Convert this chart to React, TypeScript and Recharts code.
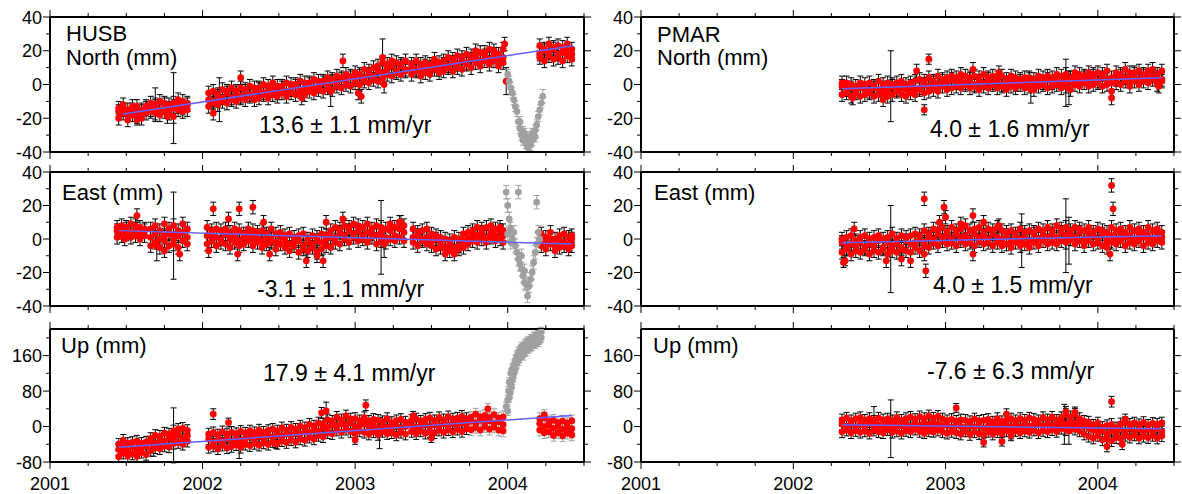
import { ComposedChart, Scatter, ErrorBar, XAxis, YAxis } from "recharts";

const FONT = '"Liberation Sans", Arial, Helvetica, sans-serif';

// time axis (decimal years)
const yearTicks = [2001, 2001.25, 2001.5, 2001.75, 2002, 2002.25, 2002.5, 2002.75, 2003, 2003.25, 2003.5, 2003.75, 2004, 2004.25, 2004.5];
const yearLabels = [2001, 2002, 2003, 2004];

const horizTicks = [-40, -30, -20, -10, 0, 10, 20, 30, 40];
const horizLabels = [-40, -20, 0, 20, 40];
const upTicks = [-80, -40, 0, 40, 80, 120, 160, 200];
const upLabels = [-80, 0, 80, 160];

// Band rows: [year, three daily solutions read across the cloud at that epoch] (mm)
// Odd rows: [year, value, sigma] for off-cloud points and big error bars
const husbNorthSigma = 4;
const husbNorthBand = [
  [2001.45, -20, -16, -14], [2001.48, -17, -15, -12], [2001.51, -21, -18, -15], [2001.54, -18, -15, -13],
  [2001.57, -19, -17, -13], [2001.6, -20, -16, -15], [2001.63, -17, -14, -13],
  [2001.66, -16, -15, -11], [2001.69, -17, -13, -12], [2001.72, -18, -15, -10], [2001.75, -16, -12, -11],
  [2001.78, -17, -14, -12], [2001.81, -19, -13, -11], [2001.84, -15, -13, -9], [2001.87, -16, -14, -10], [2001.9, -15, -12, -11],
  [2002.04, -13, -9, -5], [2002.07, -11, -10, -4], [2002.1, -12, -7, -6], [2002.13, -10, -8, -3], [2002.16, -11, -5, -4],
  [2002.19, -9, -8, -2], [2002.22, -10, -5, -4], [2002.25, -8, -7, -2], [2002.28, -9, -4, -3], [2002.31, -7, -6, -1],
  [2002.34, -9, -5, -2], [2002.37, -8, -3, -2], [2002.4, -6, -5, 0], [2002.43, -8, -4, -1], [2002.46, -6, -3, 1],
  [2002.49, -7, -5, -1], [2002.52, -5, -2, -1], [2002.55, -7, -4, 1], [2002.58, -5, -3, 0], [2002.61, -6, -1, 0],
  [2002.64, -4, -3, 2], [2002.67, -6, -2, 1], [2002.7, -4, 0, 1], [2002.73, -5, -2, 3], [2002.76, -3, -1, 2],
  [2002.79, -4, 1, 2], [2002.82, -2, 0, 4], [2002.85, -3, 2, 3], [2002.88, -1, 1, 5], [2002.91, -2, 3, 4],
  [2002.94, 0, 2, 6], [2002.97, -1, 4, 5], [2003.0, 1, 3, 7], [2003.03, 0, 5, 6], [2003.06, 2, 4, 9],
  [2003.09, 1, 6, 8], [2003.12, 3, 5, 10], [2003.15, 2, 8, 11], [2003.18, 4, 7, 13], [2003.21, 6, 9, 12],
  [2003.24, 5, 11, 14], [2003.27, 7, 8, 13], [2003.3, 6, 11, 12], [2003.33, 8, 9, 14],
  [2003.37, 6, 10, 12], [2003.4, 8, 9, 14], [2003.43, 5, 8, 12], [2003.46, 7, 11, 13], [2003.49, 6, 10, 12],
  [2003.52, 9, 11, 15], [2003.55, 7, 9, 13], [2003.58, 8, 12, 14], [2003.61, 10, 11, 16], [2003.64, 8, 13, 15],
  [2003.67, 10, 12, 17], [2003.7, 9, 14, 16], [2003.73, 12, 13, 18], [2003.76, 10, 15, 17], [2003.79, 13, 16, 20],
  [2003.82, 11, 14, 19], [2003.85, 14, 17, 19], [2003.88, 12, 15, 21], [2003.91, 14, 18, 20], [2003.94, 11, 15, 18],
  [2003.97, 13, 16, 21],
  [2004.21, 16, 18, 23], [2004.24, 14, 20, 21], [2004.27, 17, 19, 24], [2004.3, 15, 21, 22], [2004.33, 16, 18, 23],
  [2004.36, 14, 19, 22], [2004.39, 17, 20, 24], [2004.42, 15, 18, 21],
];
const husbNorthOdd = [
  [2001.57, -21, 3], [2001.69, -12, 10], [2001.77, -19, 4], [2001.81, -14, 21],
  [2002.07, -17, 4], [2002.11, -9, 13], [2002.25, 4, 4], [2002.65, -8, 4], [2002.84, -4, 9], [2002.92, 14, 4],
  [2003.02, -5, 4], [2003.04, -7, 4], [2003.18, 16, 11], [2003.19, 0, 5], [2003.98, 24, 4], [2003.99, 2, 8],
];
const husbNorthOut = [
  [2004.0, 6, 3], [2004.01, 2, 3], [2004.02, -2, 3], [2004.03, -5, 3], [2004.04, -9, 3], [2004.05, -13, 3], [2004.06, -16, 3],
  [2004.07, -22, 3], [2004.08, -26, 3], [2004.08, -22, 3], [2004.09, -30, 3], [2004.1, -33, 3], [2004.1, -28, 3],
  [2004.11, -29, 3], [2004.12, -35, 3], [2004.12, -31, 3], [2004.13, -37, 3], [2004.14, -32, 3], [2004.14, -36, 3],
  [2004.15, -36, 3], [2004.16, -33, 3], [2004.16, -29, 3], [2004.17, -30, 3], [2004.18, -27, 3], [2004.18, -31, 3],
  [2004.19, -24, 3], [2004.2, -19, 3], [2004.21, -15, 3], [2004.22, -11, 3], [2004.23, -7, 4],
];
const husbNorthTrend = [[2001.48, -17.5], [2004.43, 23]];

const husbEastSigma = 4;
const husbEastBand = [
  [2001.44, 1, 5, 7], [2001.47, 2, 4, 8], [2001.5, 3, 6, 7], [2001.53, 1, 4, 9], [2001.56, 2, 6, 8], [2001.59, 0, 3, 7],
  [2001.62, 2, 5, 6], [2001.66, -4, 1, 6], [2001.69, -2, 3, 8], [2001.72, -5, 0, 5], [2001.75, -1, 2, 9], [2001.78, -4, 3, 6],
  [2001.81, -3, 0, 8], [2001.84, -5, 2, 5], [2001.87, -1, 4, 9], [2001.9, -3, 1, 6],
  [2002.03, -3, 2, 7], [2002.06, -1, 3, 5], [2002.09, -4, 1, 6], [2002.12, -2, 0, 5], [2002.15, -3, 3, 6], [2002.18, -5, 0, 4],
  [2002.21, -2, 2, 6], [2002.24, -4, -1, 5], [2002.27, -3, 1, 3], [2002.3, -1, 3, 6], [2002.33, -4, 0, 5], [2002.36, -2, 2, 4],
  [2002.39, -5, -1, 5], [2002.42, -3, 1, 3], [2002.45, -2, 0, 6], [2002.48, -6, -2, 3], [2002.51, -3, 1, 4], [2002.54, -5, -1, 2],
  [2002.57, -7, -3, 3], [2002.6, -4, -2, 1], [2002.63, -8, -1, 2], [2002.66, -6, -4, 3], [2002.69, -7, -2, 0], [2002.72, -5, -3, 2],
  [2002.75, -8, -1, 1], [2002.78, -6, -2, 3], [2002.81, -4, 0, 2], [2002.84, -5, 1, 5], [2002.87, -2, 1, 7], [2002.9, -3, 4, 6],
  [2002.93, 0, 2, 8], [2002.96, -2, 5, 7], [2002.99, 1, 3, 9], [2003.02, -1, 5, 8], [2003.05, 0, 2, 7], [2003.08, -2, 4, 9],
  [2003.11, 1, 3, 6], [2003.14, -3, 2, 8], [2003.17, -1, 4, 7], [2003.2, -2, 1, 6], [2003.23, 0, 5, 9], [2003.26, -1, 2, 7],
  [2003.29, 1, 6, 10], [2003.32, -1, 4, 8],
  [2003.38, -2, 1, 6], [2003.41, -4, 2, 4], [2003.44, -1, 0, 5], [2003.47, -3, 1, 6], [2003.5, -4, -1, 3], [2003.53, -6, 0, 2],
  [2003.56, -5, -3, 1], [2003.59, -9, -5, 0], [2003.62, -7, -3, -1], [2003.65, -9, -5, 1], [2003.68, -6, -4, 0], [2003.71, -5, -1, 3],
  [2003.74, -3, 0, 4], [2003.77, -1, 3, 5], [2003.8, -2, 2, 7], [2003.83, 0, 4, 6], [2003.86, -2, 1, 7], [2003.89, 1, 4, 8],
  [2003.92, -1, 2, 6], [2003.95, 0, 5, 7], [2003.97, -2, 2, 5],
  [2004.22, -4, -1, 3], [2004.25, -6, -2, 1], [2004.28, -3, 0, 4], [2004.31, -7, -4, 0], [2004.34, -5, -1, 2],
  [2004.37, -4, -2, 3], [2004.4, -6, -3, 1], [2004.42, -4, 0, 2],
];
const husbEastOdd = [
  [2001.49, 0, 4], [2001.57, 14, 4], [2001.7, -4, 9], [2001.75, -7, 4], [2001.81, 2, 26], [2001.85, -9, 4],
  [2002.04, -7, 4], [2002.07, 18, 4], [2002.17, 12, 4], [2002.23, -9, 4], [2002.24, 18, 4], [2002.33, 19, 4],
  [2002.4, 10, 4], [2002.44, -9, 4], [2002.68, -13, 4], [2002.75, -10, 4], [2002.79, -13, 4], [2002.81, 10, 4],
  [2002.92, 12, 4], [2003.17, 1, 22], [2003.19, -3, 8], [2003.3, 10, 4],
];
const husbEastOut = [
  [2003.99, 28, 4], [2004.0, 20, 4], [2004.0, 3, 4], [2004.01, 12, 4], [2004.02, 6, 4], [2004.02, -2, 4], [2004.03, 0, 4],
  [2004.04, 4, 4], [2004.05, -4, 4], [2004.06, -8, 4], [2004.07, 28, 4], [2004.07, -12, 4], [2004.08, -15, 4], [2004.09, -18, 4],
  [2004.09, -10, 4], [2004.1, -22, 4], [2004.11, -19, 4], [2004.11, -26, 4], [2004.12, -27, 4], [2004.13, -34, 4],
  [2004.14, -28, 4], [2004.15, -24, 4], [2004.16, -20, 4], [2004.17, -14, 4], [2004.18, -8, 4], [2004.19, -3, 4],
  [2004.19, 22, 4], [2004.2, 4, 4], [2004.21, 0, 4],
];
const husbEastTrend = [[2001.45, 5], [2004.42, -3]];

const husbUpSigma = 13;
const husbUpBand = [
  [2001.45, -68, -52, -40], [2001.48, -60, -47, -31], [2001.51, -66, -55, -38], [2001.54, -62, -45, -36],
  [2001.57, -67, -51, -33], [2001.6, -58, -48, -38], [2001.63, -63, -44, -35],
  [2001.66, -54, -36, -27], [2001.69, -48, -38, -20], [2001.72, -50, -31, -22], [2001.75, -44, -33, -15],
  [2001.78, -46, -26, -17], [2001.81, -38, -28, -10], [2001.84, -36, -18, -6], [2001.87, -40, -25, -4], [2001.9, -33, -20, -9],
  [2002.04, -47, -28, -17], [2002.07, -44, -35, -14], [2002.1, -50, -29, -19], [2002.13, -42, -33, -12],
  [2002.16, -48, -26, -18], [2002.19, -45, -34, -13], [2002.22, -41, -27, -16], [2002.25, -47, -31, -11],
  [2002.28, -40, -28, -15], [2002.31, -43, -23, -10], [2002.34, -38, -29, -14], [2002.37, -42, -22, -8],
  [2002.4, -37, -27, -13], [2002.43, -40, -20, -9], [2002.46, -34, -24, -6], [2002.49, -38, -19, -10],
  [2002.52, -32, -21, -3], [2002.55, -36, -17, -8], [2002.58, -30, -19, -2], [2002.61, -35, -15, -6],
  [2002.64, -28, -17, 1], [2002.67, -31, -12, -3], [2002.7, -24, -13, 5], [2002.73, -28, -8, 1],
  [2002.76, -20, -10, 8], [2002.79, -23, -3, 6], [2002.82, -14, -2, 15], [2002.85, -16, 4, 12],
  [2002.88, -8, 2, 21], [2002.91, -13, 6, 15], [2002.94, -6, 4, 24], [2002.97, -11, 8, 17],
  [2003.0, -15, 0, 18], [2003.03, -10, 3, 13], [2003.06, -13, 6, 20], [2003.09, -17, -1, 12],
  [2003.12, -12, 2, 16], [2003.15, -18, -3, 14], [2003.18, -11, 3, 11], [2003.21, -16, -2, 18],
  [2003.24, -14, -5, 9], [2003.27, -19, 2, 13], [2003.3, -13, -3, 16], [2003.33, -17, 0, 10],
  [2003.37, -11, 4, 14], [2003.4, -16, -2, 17], [2003.43, -10, 1, 12], [2003.46, -15, 5, 16], [2003.49, -12, 0, 19],
  [2003.52, -14, 4, 13], [2003.55, -8, 2, 20], [2003.58, -13, 6, 15], [2003.61, -7, 3, 22], [2003.64, -12, 8, 17],
  [2003.67, -6, 4, 19], [2003.7, -11, 9, 23], [2003.73, -5, 6, 18],
];
const husbUpOdd = [
  [2001.68, -45, 22], [2001.81, -20, 62], [2002.07, 28, 12], [2002.17, 9, 10], [2002.24, -42, 30], [2002.48, -39, 10],
  [2002.78, 31, 12], [2002.81, 35, 20], [2003.0, -30, 10], [2003.07, 48, 12], [2003.16, -15, 35], [2003.38, 24, 10],
  [2003.5, -26, 10],
];
// red solutions that carry grey error bars
const husbUpGreyBand = [
  [2003.76, -7, 12, 21], [2003.79, -2, 8, 28], [2003.82, -8, 14, 22], [2003.85, 0, 10, 25],
  [2003.88, -6, 13, 20], [2003.91, -1, 7, 27], [2003.94, -8, 11, 19], [2003.97, -10, 4, 22],
  [2004.21, -8, 7, 18], [2004.24, -14, 0, 20], [2004.27, -12, 3, 11], [2004.3, -20, -4, 14],
  [2004.33, -14, 1, 9], [2004.36, -21, -6, 12], [2004.39, -15, -1, 8], [2004.42, -19, -5, 13],
];
const husbUpGreyOdd = [[2003.87, 40, 12], [2004.24, 26, 12]];
const husbUpOut = [
  [2003.99, 45, 10], [2004.0, 60, 10], [2004.0, 35, 10], [2004.005, 80, 10], [2004.01, 100, 10], [2004.01, 65, 10],
  [2004.015, 75, 10], [2004.02, 120, 10], [2004.02, 95, 10], [2004.025, 88, 10], [2004.03, 130, 10], [2004.03, 105, 10],
  [2004.035, 112, 10], [2004.04, 140, 10], [2004.04, 120, 10], [2004.05, 150, 10], [2004.05, 130, 10], [2004.06, 160, 10],
  [2004.06, 142, 10], [2004.07, 148, 10], [2004.07, 168, 10], [2004.08, 172, 10], [2004.08, 155, 10], [2004.09, 162, 10],
  [2004.09, 180, 10], [2004.1, 178, 10], [2004.1, 160, 10], [2004.11, 168, 10], [2004.11, 185, 10], [2004.12, 188, 10],
  [2004.12, 170, 10], [2004.13, 175, 10], [2004.13, 192, 10], [2004.14, 192, 10], [2004.14, 176, 10], [2004.15, 180, 10],
  [2004.15, 198, 10], [2004.16, 196, 10], [2004.16, 182, 10], [2004.17, 188, 10], [2004.17, 203, 10], [2004.18, 202, 10],
  [2004.18, 186, 10], [2004.19, 192, 10], [2004.19, 208, 10], [2004.2, 206, 10], [2004.2, 190, 10], [2004.21, 196, 10],
  [2004.21, 212, 10], [2004.22, 214, 10], [2004.22, 200, 10],
];
const husbUpTrend = [[2001.45, -47], [2004.42, 25]];

const pmarNorthSigma = 4;
const pmarNorthBand = [
  [2002.32, -6, -1, 1], [2002.35, -5, -3, 1], [2002.38, -7, -2, 0], [2002.41, -5, -4, -1], [2002.44, -7, -2, 1],
  [2002.47, -6, -3, 0], [2002.5, -5, -4, 1], [2002.53, -7, -2, -1], [2002.56, -6, -3, 2], [2002.59, -5, -2, 0],
  [2002.62, -7, -4, 1], [2002.65, -6, -1, 0], [2002.68, -4, -3, 1], [2002.71, -6, -2, 2], [2002.74, -7, -3, 0],
  [2002.77, -5, -1, 1], [2002.8, -6, -3, 2], [2002.83, -3, -2, 3], [2002.86, -5, 0, 2], [2002.89, -4, -1, 4],
  [2002.92, -3, 1, 2], [2002.95, -4, 0, 5], [2002.98, -1, 2, 3], [2003.01, -3, 0, 4], [2003.04, -2, 3, 5],
  [2003.07, -1, 1, 4], [2003.1, -2, 2, 6], [2003.13, 0, 1, 5], [2003.16, -2, 3, 4], [2003.19, -1, 0, 5],
  [2003.22, -3, 2, 4], [2003.25, -1, 1, 6], [2003.28, -2, 3, 4], [2003.31, 0, 1, 5], [2003.34, -2, 2, 4],
  [2003.37, -1, 0, 5], [2003.4, -3, 1, 3], [2003.43, -1, 2, 5], [2003.46, -2, 0, 4], [2003.49, 0, 2, 3],
  [2003.52, -2, 1, 4], [2003.55, -1, 3, 4], [2003.58, -3, 0, 3], [2003.61, -1, 2, 5], [2003.64, 0, 1, 4],
  [2003.67, -2, 3, 5], [2003.7, -1, 1, 4], [2003.73, 0, 2, 6], [2003.76, -2, 1, 5], [2003.79, -1, 3, 6],
  [2003.82, -3, 2, 4], [2003.85, 0, 3, 7], [2003.88, -1, 2, 6], [2003.91, 1, 4, 5], [2003.94, -1, 3, 7],
  [2003.97, 0, 5, 6], [2004.0, 1, 2, 7], [2004.03, -1, 4, 6], [2004.06, 0, 3, 8], [2004.09, -4, 1, 4],
  [2004.12, 1, 3, 7], [2004.15, 0, 5, 6], [2004.18, 2, 4, 9], [2004.21, -1, 3, 7], [2004.24, 2, 6, 7],
  [2004.27, 0, 3, 8], [2004.3, 2, 5, 6], [2004.33, 1, 4, 8], [2004.36, 3, 5, 9], [2004.39, 0, 4, 6], [2004.42, 2, 3, 8],
];
const pmarNorthOdd = [
  [2002.39, -8, 4], [2002.59, -9, 4], [2002.64, -1, 21], [2002.81, 8, 4], [2002.86, -15, 3], [2002.89, 15, 3],
  [2003.18, 9, 4], [2003.35, 7, 4], [2003.56, -3, 8], [2003.79, 1, 14], [2003.81, -2, 10], [2004.09, -8, 4], [2004.4, -1, 4],
];
const pmarNorthTrend = [[2002.32, -2.5], [2004.42, 4]];

const pmarEastSigma = 4;
const pmarEastBand = [
  [2002.32, -8, -2, 0], [2002.35, -6, -5, 1], [2002.38, -9, -3, 2], [2002.41, -7, -4, -1], [2002.44, -8, -2, 1],
  [2002.47, -6, -5, 2], [2002.5, -9, -3, 0], [2002.53, -7, -4, 1], [2002.56, -8, -1, 2], [2002.59, -6, -5, 0],
  [2002.62, -9, -2, 1], [2002.65, -7, -4, 3], [2002.68, -8, -3, 0], [2002.71, -6, -5, 2], [2002.74, -7, -1, 1],
  [2002.77, -8, -3, 2], [2002.8, -5, -2, 3], [2002.83, -7, 0, 2], [2002.86, -4, -2, 5], [2002.89, -5, 1, 3],
  [2002.92, -2, 0, 6], [2002.95, -4, 3, 5], [2002.98, -1, 1, 7], [2003.01, -3, 2, 4], [2003.04, -2, 0, 7],
  [2003.07, -4, 3, 5], [2003.1, -1, 1, 6], [2003.13, -3, 2, 8], [2003.16, -2, 0, 5], [2003.19, -4, 3, 6],
  [2003.22, -1, 1, 7], [2003.25, -3, 2, 4], [2003.28, -2, 0, 6], [2003.31, -4, 3, 5], [2003.34, -2, 1, 7],
  [2003.37, -4, 0, 5], [2003.4, -3, 2, 4], [2003.43, -5, -1, 5], [2003.46, -2, 1, 3], [2003.49, -4, 0, 6],
  [2003.52, -3, 2, 4], [2003.55, -5, -1, 5], [2003.58, -2, 3, 4], [2003.61, -4, 0, 6], [2003.64, -1, 2, 5],
  [2003.67, -3, 1, 7], [2003.7, -2, 3, 5], [2003.73, -3, 1, 8], [2003.76, -1, 4, 6], [2003.79, -2, 2, 7],
  [2003.82, 0, 3, 5], [2003.85, -3, 1, 7], [2003.88, -1, 4, 6], [2003.91, -4, 0, 5], [2003.94, -1, 3, 7],
  [2003.97, -3, 2, 4], [2004.0, -2, 0, 6], [2004.03, -4, 3, 5], [2004.06, -5, -1, 4], [2004.09, -2, 2, 7],
  [2004.12, -3, 0, 5], [2004.15, -1, 3, 6], [2004.18, -4, 1, 4], [2004.21, -2, 2, 7], [2004.24, -3, 0, 5],
  [2004.27, -1, 3, 6], [2004.3, -4, 1, 4], [2004.33, -2, 2, 7], [2004.36, -3, 0, 5], [2004.39, -1, 3, 6], [2004.42, -2, 1, 4],
];
const pmarEastOdd = [
  [2002.33, -14, 3], [2002.34, -13, 3], [2002.4, 6, 4], [2002.61, -13, 4], [2002.64, -6, 26], [2002.71, -12, 4],
  [2002.77, -13, 4], [2002.86, 24, 4], [2002.86, -9, 4], [2002.87, -19, 4], [2002.96, 10, 4], [2002.99, 19, 4],
  [2003.0, 13, 4], [2003.1, 9, 4], [2003.18, 14, 4], [2003.18, -9, 4], [2003.25, 10, 4], [2003.35, 8, 4],
  [2003.5, -1, 16], [2003.79, 2, 22], [2003.81, -1, 14], [2004.08, -9, 4], [2004.09, 32, 4], [2004.1, 18, 4],
];
const pmarEastTrend = [[2002.32, -2.2], [2004.42, 2]];

const pmarUpSigma = 13;
const pmarUpBand = [
  [2002.32, -12, 6, 15], [2002.35, -8, 0, 19], [2002.38, -14, 5, 13], [2002.41, -9, -1, 17], [2002.44, -13, 4, 20],
  [2002.47, -10, 1, 14], [2002.5, -15, 6, 18], [2002.53, -8, -2, 12], [2002.56, -12, 3, 19], [2002.59, -14, 0, 15],
  [2002.62, -7, 5, 17], [2002.65, -13, -1, 13], [2002.68, -10, 4, 20], [2002.71, -15, 2, 14], [2002.74, -9, 6, 18],
  [2002.77, -12, 0, 21], [2002.8, -6, 7, 16], [2002.83, -11, 3, 22], [2002.86, -5, 9, 18], [2002.89, -10, 4, 24],
  [2002.92, -4, 10, 19], [2002.95, -8, 5, 23], [2002.98, -12, 2, 17], [2003.01, -15, 3, 13], [2003.04, -11, -2, 16],
  [2003.07, -14, 4, 12], [2003.1, -17, 0, 15], [2003.13, -10, -3, 14], [2003.16, -18, 2, 11], [2003.19, -12, -1, 17],
  [2003.22, -16, 3, 12], [2003.25, -19, -4, 14], [2003.28, -11, 1, 16], [2003.31, -17, -3, 10], [2003.34, -12, 2, 18],
  [2003.37, -16, -2, 11], [2003.4, -10, 4, 15], [2003.43, -15, -1, 17], [2003.46, -9, 5, 13], [2003.49, -14, 0, 18],
  [2003.52, -10, 6, 14], [2003.55, -13, 1, 19], [2003.58, -8, 3, 16], [2003.61, -14, 5, 13], [2003.64, -9, 1, 20],
  [2003.67, -12, 6, 15], [2003.7, -7, 2, 21], [2003.73, -11, 7, 14], [2003.76, -4, 10, 20], [2003.79, -7, 6, 27],
  [2003.82, -2, 12, 22], [2003.85, -6, 8, 28], [2003.88, -10, 4, 18], [2003.91, -17, 1, 12], [2003.94, -22, -4, 10],
  [2003.97, -26, -8, 3], [2004.0, -20, -12, 8], [2004.03, -30, -10, -2], [2004.06, -28, -17, 2], [2004.09, -32, -9, 5],
  [2004.12, -25, -15, -3], [2004.15, -27, -6, 6], [2004.18, -20, -11, 9], [2004.21, -24, -4, 5], [2004.24, -19, -12, 8],
  [2004.27, -26, -5, 4], [2004.3, -22, -13, 9], [2004.33, -25, -6, 3], [2004.36, -20, -11, 7], [2004.39, -26, -4, 5],
  [2004.42, -21, -12, 8],
];
const pmarUpOdd = [
  [2002.53, 15, 30], [2002.64, -5, 65], [2002.86, -15, 12], [2002.92, -12, 12], [2003.07, 42, 10], [2003.25, -36, 10],
  [2003.37, -34, 10], [2003.4, 28, 12], [2003.43, -20, 12], [2003.78, 5, 45], [2003.79, 33, 12], [2003.81, -10, 30],
  [2003.85, 32, 12], [2004.06, -45, 12], [2004.09, 56, 12], [2004.16, -40, 12], [2004.18, 16, 12],
];
const pmarUpTrend = [[2002.32, 4], [2004.42, -5]];

const fromBand = (rows: number[][], sigma: number) =>
  rows.flatMap(([t, ...vs]) => vs.map((v) => ({ t, v, e: sigma })));
const fromOdd = (rows: number[][]) => rows.map(([t, v, e]) => ({ t, v, e }));
const fromTrend = (rows: number[][]) => rows.map(([t, v]) => ({ t, v }));

const RED = "#ff0000";
const GREY = "#a0a0a0";
const BLUE = "#6262ff";

const redDot = (p: any) => <circle cx={p.cx} cy={p.cy} r={3.4} fill={RED} />;
const greyDot = (p: any) => <circle cx={p.cx} cy={p.cy} r={3.4} fill={GREY} />;
const noDot = () => <g />;

function XTick(props: any) {
  const { x, y, payload, dir, showLabel } = props;
  const v = payload.value;
  const major = Number.isInteger(v);
  const len = major ? 7 : 4;
  return (
    <g>
      <line x1={x} x2={x} y1={y} y2={y + dir * len} stroke="#000" strokeWidth={1} />
      {showLabel && yearLabels.includes(v) && (
        <text x={x} y={y + 28} textAnchor="middle" fontSize={18} fontFamily={FONT} fill="#000">
          {v}
        </text>
      )}
    </g>
  );
}

function YTick(props: any) {
  const { x, y, payload, dir, labels, showLabel } = props;
  const v = payload.value;
  const major = labels.includes(v);
  const len = major ? 7 : 4;
  return (
    <g>
      <line x1={x} x2={x + dir * len} y1={y} y2={y} stroke="#000" strokeWidth={1} />
      {showLabel && major && (
        <text x={x - 8} y={y + 6.5} textAnchor="end" fontSize={18} fontFamily={FONT} fill="#000">
          {v}
        </text>
      )}
    </g>
  );
}

const frame = { stroke: "#000", strokeWidth: 2 };

function Panel(props: any) {
  const { left, top, width, plotH, bottomH, showYears, main, greyBar, out, trend, ticks, labels, domain } = props;
  return (
    <div style={{ position: "absolute", left, top }}>
      <ComposedChart width={width} height={10 + plotH + bottomH} margin={{ top: 0, right: 0, bottom: 0, left: 0 }}>
        <XAxis xAxisId="b" type="number" dataKey="t" domain={[2001, 2004.5]} ticks={yearTicks} interval={0}
          allowDataOverflow height={bottomH} tickSize={0} tickMargin={0} tickLine={false} axisLine={frame}
          tick={(p: any) => <XTick {...p} dir={1} showLabel={showYears} />} />
        <XAxis xAxisId="t" orientation="top" type="number" dataKey="t" domain={[2001, 2004.5]} ticks={yearTicks} interval={0}
          allowDataOverflow height={10} tickSize={0} tickMargin={0} tickLine={false} axisLine={frame}
          tick={(p: any) => <XTick {...p} dir={-1} showLabel={false} />} />
        <YAxis yAxisId="l" type="number" dataKey="v" domain={domain} ticks={ticks} interval={0}
          allowDataOverflow width={50} tickSize={0} tickMargin={0} tickLine={false} axisLine={frame}
          tick={(p: any) => <YTick {...p} dir={-1} labels={labels} showLabel />} />
        <YAxis yAxisId="r" orientation="right" type="number" dataKey="v" domain={domain} ticks={ticks} interval={0}
          allowDataOverflow width={8} tickSize={0} tickMargin={0} tickLine={false} axisLine={frame}
          tick={(p: any) => <YTick {...p} dir={1} labels={labels} showLabel={false} />} />
        <Scatter xAxisId="b" yAxisId="l" data={main} shape={redDot} isAnimationActive={false}>
          <ErrorBar dataKey="e" direction="y" width={3} stroke="#000" strokeWidth={1} isAnimationActive={false} />
        </Scatter>
        {greyBar && (
          <Scatter xAxisId="b" yAxisId="l" data={greyBar} shape={redDot} isAnimationActive={false}>
            <ErrorBar dataKey="e" direction="y" width={3} stroke={GREY} strokeWidth={1} isAnimationActive={false} />
          </Scatter>
        )}
        {out && (
          <Scatter xAxisId="b" yAxisId="l" data={out} shape={greyDot} isAnimationActive={false}>
            <ErrorBar dataKey="e" direction="y" width={3} stroke={GREY} strokeWidth={1} isAnimationActive={false} />
          </Scatter>
        )}
        <Scatter xAxisId="b" yAxisId="l" data={trend} shape={noDot} line={{ stroke: BLUE, strokeWidth: 1.5 }}
          isAnimationActive={false} />
      </ComposedChart>
    </div>
  );
}

// text annotations: [text, x, baseline y, font size]
const notes: [string, number, number, number][] = [
  ["HUSB", 66, 41, 22], ["North (mm)", 66, 65, 22], ["13.6 ± 1.1 mm/yr", 259, 133, 23],
  ["East (mm)", 62, 200, 22], ["-3.1 ± 1.1 mm/yr", 257, 297, 23],
  ["Up (mm)", 61, 353, 22], ["17.9 ± 4.1 mm/yr", 263, 381, 23],
  ["PMAR", 657, 42, 22], ["North (mm)", 657, 65, 22], ["4.0 ± 1.6 mm/yr", 930, 137, 23],
  ["East (mm)", 654, 200, 22], ["4.0 ± 1.5 mm/yr", 933, 293, 23],
  ["Up (mm)", 653, 353, 22], ["-7.6 ± 6.3 mm/yr", 927, 379, 23],
];

const rows = [
  { top: 7, plotH: 135, bottomH: 10, ticks: horizTicks, labels: horizLabels, domain: [-40, 40] },
  { top: 162, plotH: 134, bottomH: 10, ticks: horizTicks, labels: horizLabels, domain: [-40, 40] },
  { top: 319, plotH: 133, bottomH: 33, ticks: upTicks, labels: upLabels, domain: [-80, 220] },
];

export default function App() {
  const left = [
    { main: [...fromBand(husbNorthBand, husbNorthSigma), ...fromOdd(husbNorthOdd)], out: fromOdd(husbNorthOut), trend: fromTrend(husbNorthTrend) },
    { main: [...fromBand(husbEastBand, husbEastSigma), ...fromOdd(husbEastOdd)], out: fromOdd(husbEastOut), trend: fromTrend(husbEastTrend) },
    {
      main: [...fromBand(husbUpBand, husbUpSigma), ...fromOdd(husbUpOdd)],
      greyBar: [...fromBand(husbUpGreyBand, husbUpSigma), ...fromOdd(husbUpGreyOdd)],
      out: fromOdd(husbUpOut),
      trend: fromTrend(husbUpTrend),
    },
  ];
  const right = [
    { main: [...fromBand(pmarNorthBand, pmarNorthSigma), ...fromOdd(pmarNorthOdd)], trend: fromTrend(pmarNorthTrend) },
    { main: [...fromBand(pmarEastBand, pmarEastSigma), ...fromOdd(pmarEastOdd)], trend: fromTrend(pmarEastTrend) },
    { main: [...fromBand(pmarUpBand, pmarUpSigma), ...fromOdd(pmarUpOdd)], trend: fromTrend(pmarUpTrend) },
  ];
  return (
    <div style={{ position: "absolute", left: 0, top: 0, width: 1182, height: 494, overflow: "hidden", background: "#fff" }}>
      {rows.map((r, i) => (
        <Panel key={"l" + i} left={0} width={592} {...r} {...left[i]} showYears={i === 2} />
      ))}
      {rows.map((r, i) => (
        <Panel key={"r" + i} left={591} width={591} {...r} {...right[i]} showYears={i === 2} />
      ))}
      <svg width={1182} height={494} style={{ position: "absolute", left: 0, top: 0, pointerEvents: "none" }}>
        {notes.map(([s, x, y, f], i) => (
          <text key={i} x={x} y={y} fontSize={f} fontFamily={FONT} fill="#000">
            {s}
          </text>
        ))}
      </svg>
    </div>
  );
}
